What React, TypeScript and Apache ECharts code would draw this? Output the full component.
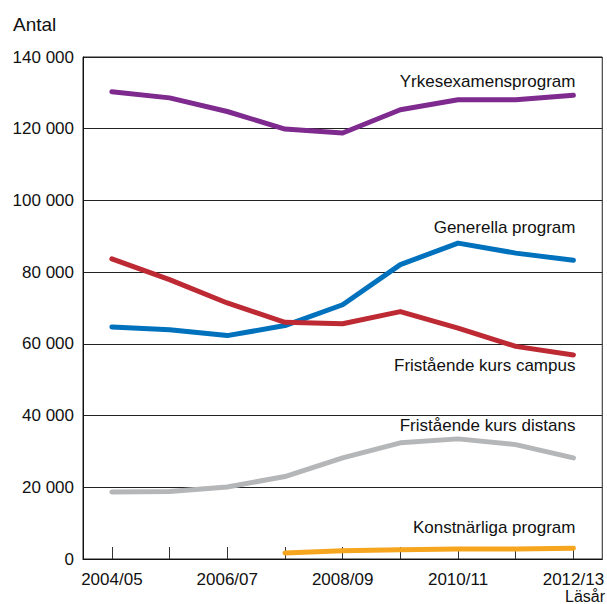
import React, { useEffect, useRef } from "react";
import * as echarts from "echarts";

const categories = ["2004/05", "2005/06", "2006/07", "2007/08", "2008/09", "2009/10", "2010/11", "2011/12", "2012/13"];
const yTicks = [0, 20000, 40000, 60000, 80000, 100000, 120000, 140000];

const yrkes = [130300, 128600, 124800, 119900, 118800, 125300, 128100, 128100, 129300];
const generella = [64700, 63950, 62300, 65100, 70900, 82100, 88100, 85300, 83300];
const campus = [83700, 77900, 71400, 66000, 65600, 69000, 64400, 59300, 56900];
const distans = [18700, 18800, 20100, 23000, 28200, 32400, 33500, 31900, 28200];
const konst = [null, null, null, 1700, 2300, 2600, 2800, 2800, 3000];

const seriesNames = ["Yrkesexamensprogram", "Generella program", "Fristående kurs campus", "Fristående kurs distans", "Konstnärliga program"];
const seriesColors = ["#7E2A8E", "#0071BC", "#BD2A33", "#B5B6B8", "#F6A51E"];
const labelOffsets = [-14, -33, 11, -32, -21];

const FONT = "Liberation Sans, Arial, sans-serif";

export default function App() {
  const ref = useRef<HTMLDivElement>(null);
  useEffect(() => {
    if (!ref.current) return;
    const chart = echarts.init(ref.current, undefined, { renderer: "svg" });
    const data = [yrkes, generella, campus, distans, konst];
    chart.setOption({
      animation: false,
      grid: {
        left: 83,
        right: 2,
        top: 57,
        bottom: 45,
        show: true,
        borderColor: "#222",
        borderWidth: 1,
        backgroundColor: "transparent",
      },
      xAxis: {
        type: "category",
        data: categories,
        boundaryGap: true,
        axisLine: { lineStyle: { color: "#111", width: 1 } },
        axisTick: { show: true, inside: true, length: 12, alignWithLabel: true, interval: 0, lineStyle: { color: "#333" } },
        axisLabel: { interval: 1, color: "#111", fontSize: 17, lineHeight: 17, fontFamily: FONT, margin: 12 },
        splitLine: { show: false },
      },
      yAxis: {
        type: "value",
        min: 0,
        max: 140000,
        interval: 20000,
        axisLine: { show: true, lineStyle: { color: "#111", width: 1 } },
        axisTick: { show: false },
        axisLabel: {
          color: "#111",
          fontSize: 17,
          fontFamily: FONT,
          margin: 9,
          formatter: (v: number) => (yTicks.includes(v) ? String(v).replace(/\B(?=(\d{3})+(?!\d))/g, " ") : ""),
        },
        splitLine: { show: true, lineStyle: { color: "#222", width: 1 } },
      },
      graphic: [
        { type: "text", left: 13, top: 15, style: { text: "Antal", fontSize: 19, fontFamily: FONT, fill: "#111" } },
        { type: "text", right: 2, top: 588, style: { text: "Läsår", fontSize: 16, lineHeight: 16, fontFamily: FONT, fill: "#111" } },
      ],
      series: data.map((d, i) => ({
        type: "line",
        name: seriesNames[i],
        data: d,
        symbol: "none",
        connectNulls: false,
        lineStyle: { color: seriesColors[i], width: 5, cap: "round", join: "round" },
        itemStyle: { color: seriesColors[i] },
        endLabel: {
          show: true,
          formatter: seriesNames[i],
          align: "right",
          verticalAlign: "middle",
          offset: [-6, labelOffsets[i]],
          color: "#111",
          fontSize: 17,
          fontFamily: FONT,
        },
      })),
    });
    return () => chart.dispose();
  }, []);
  return <div ref={ref} style={{ width: 607, height: 604, position: "absolute", left: 0, top: 0 }} />;
}
